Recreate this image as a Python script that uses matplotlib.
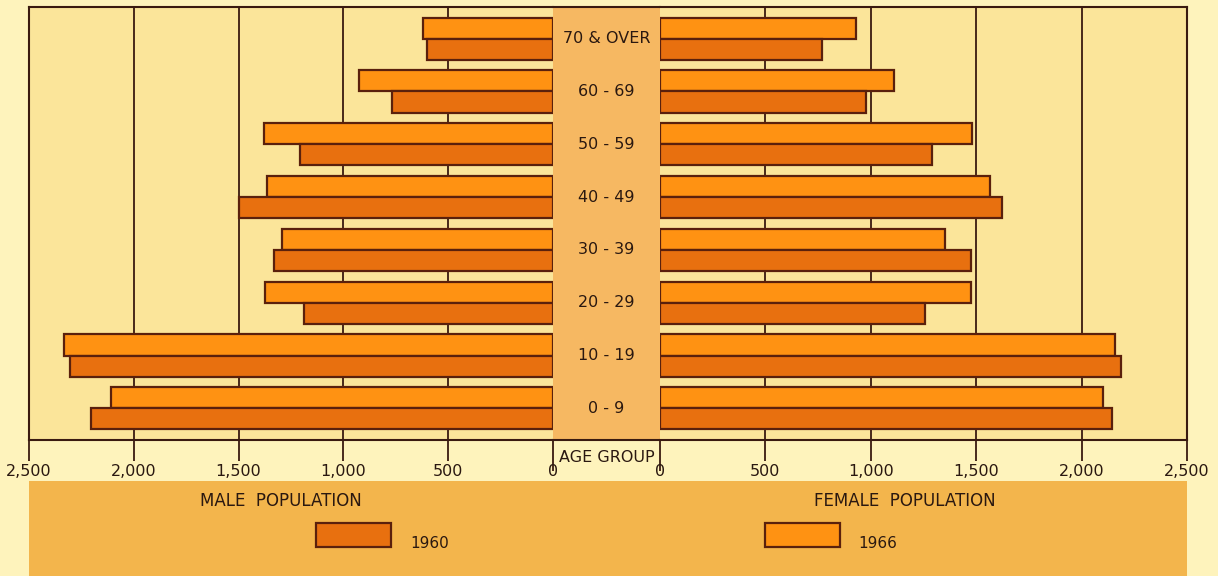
import matplotlib
matplotlib.use("Agg")
import matplotlib.pyplot as plt
from matplotlib.patches import Rectangle
import numpy as np

# ---- data (population) ----
age_groups = ["0 - 9", "10 - 19", "20 - 29", "30 - 39", "40 - 49", "50 - 59", "60 - 69", "70 & OVER"]
male_1960 = [2205, 2305, 1190, 1330, 1500, 1205, 770, 602]
male_1966 = [2110, 2333, 1375, 1295, 1365, 1378, 927, 620]
female_1960 = [2142, 2189, 1258, 1476, 1621, 1290, 975, 767]
female_1966 = [2101, 2157, 1476, 1353, 1567, 1481, 1108, 928]
left_ticks = [2500, 2000, 1500, 1000, 500, 0]
left_labels = ["2,500", "2,000", "1,500", "1,000", "500", "0"]
right_ticks = [0, 500, 1000, 1500, 2000, 2500]
right_labels = ["0", "500", "1,000", "1,500", "2,000", "2,500"]
years = ["1960", "1966"]

# ---- style ----
W, H = 1218, 576
outside_bg = "#FEF3BC"
plot_bg = "#FBE59A"
column_bg = "#F6B862"
band_bg = "#F3B54C"
c1960 = "#E8700F"
c1966 = "#FF9212"
edge = "#5A200C"
line_c = "#3A1A10"
text_c = "#2A1810"

fig = plt.figure(figsize=(W / 100, H / 100), dpi=100, facecolor=outside_bg)

def fx(px):
    return px / W

def fy(py):
    return 1 - py / H

top_px, bot_px = 7, 440
x_l0, x_l1 = 29, 553
x_r0, x_r1 = 660, 1187
ax_b = fy(bot_px)
ax_h = (bot_px - top_px) / H

# bottom band
fig.patches.append(Rectangle((fx(x_l0), 0), fx(x_r1) - fx(x_l0), fy(481),
                             transform=fig.transFigure, facecolor=band_bg,
                             edgecolor="none", zorder=0))

axL = fig.add_axes([fx(x_l0), ax_b, fx(x_l1 - x_l0), ax_h])
axC = fig.add_axes([fx(x_l1), ax_b, fx(x_r0 - x_l1), ax_h])
axR = fig.add_axes([fx(x_r0), ax_b, fx(x_r1 - x_r0), ax_h])

y = np.arange(len(age_groups))
bh = 0.4

for ax, v60, v66, ticks, labels, xl in [
    (axL, male_1960, male_1966, left_ticks, left_labels, (2500, 0)),
    (axR, female_1960, female_1966, right_ticks, right_labels, (0, 2500)),
]:
    ax.set_facecolor(plot_bg)
    for g in [500, 1000, 1500, 2000]:
        ax.axvline(g, color=line_c, lw=1.3, zorder=1)
    ax.barh(y + bh / 2, v66, height=bh, color=c1966, edgecolor=edge, lw=1.6, zorder=3)
    ax.barh(y - bh / 2, v60, height=bh, color=c1960, edgecolor=edge, lw=1.6, zorder=3)
    ax.set_xlim(*xl)
    ax.set_ylim(-0.6, len(age_groups) - 0.4)
    ax.set_yticks([])
    ax.set_xticks(ticks)
    ax.set_xticklabels(labels)
    ax.tick_params(axis="x", direction="out", length=15, width=1.3, color=line_c,
                   pad=2, labelsize=11.5, labelcolor=text_c)
    for s in ax.spines.values():
        s.set_color(line_c)
        s.set_linewidth(1.5)
    for t, tv in zip(ax.xaxis.get_major_ticks(), ticks):
        if tv == 0:
            t.tick1line.set_markersize(22)

axL.spines["right"].set_visible(False)
axR.spines["left"].set_visible(False)

# center column
axC.set_facecolor(column_bg)
axC.set_xlim(0, 1)
axC.set_ylim(-0.6, len(age_groups) - 0.4)
axC.set_xticks([])
axC.set_yticks([])
axC.spines["left"].set_visible(False)
axC.spines["right"].set_visible(False)
for s in ["top", "bottom"]:
    axC.spines[s].set_color(line_c)
    axC.spines[s].set_linewidth(1.5)
for yi, lab in zip(y, age_groups):
    axC.text(0.5, yi, lab, ha="center", va="center", fontsize=11.5, color=text_c)

fig.text(fx(607), fy(457), "AGE GROUP", ha="center", va="center", fontsize=11.5, color=text_c)

# legend / titles
fig.text(fx(281), fy(501), "MALE  POPULATION", ha="center", va="center", fontsize=12, color=text_c)
fig.text(fx(905), fy(501), "FEMALE  POPULATION", ha="center", va="center", fontsize=12, color=text_c)

for x0, col, yr, tx in [(316, c1960, years[0], 410), (765, c1966, years[1], 858)]:
    fig.patches.append(Rectangle((fx(x0), fy(547)), fx(75), (547 - 523) / H,
                                 transform=fig.transFigure, facecolor=col,
                                 edgecolor=edge, lw=1.6, zorder=2))
    fig.text(fx(tx), fy(543), yr, ha="left", va="center", fontsize=11, color=text_c)

fig.savefig("out.png", dpi=100, facecolor=fig.get_facecolor())
